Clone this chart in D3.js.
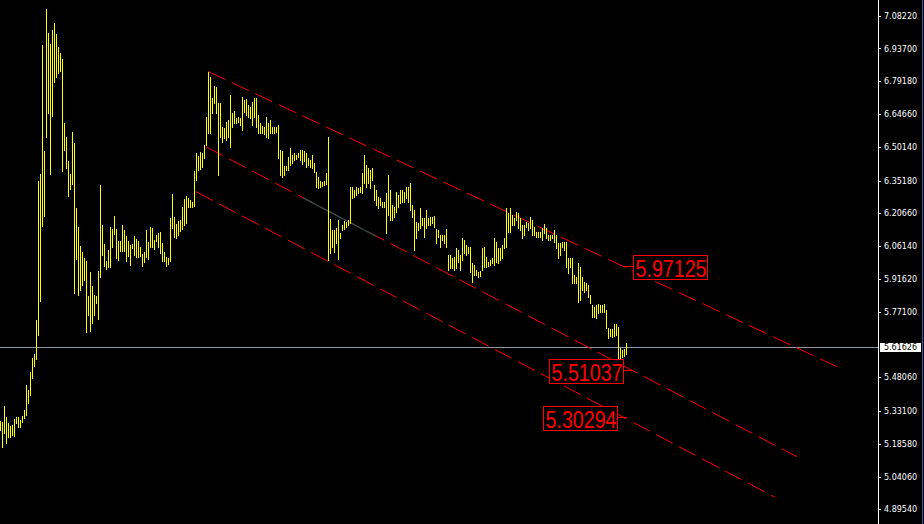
<!DOCTYPE html>
<html><head><meta charset="utf-8">
<script src="https://cdn.jsdelivr.net/npm/d3@7"></script>
<style>html,body{margin:0;padding:0;background:#000;overflow:hidden}</style>
</head><body>
<svg id="chart" width="924" height="524" style="display:block;background:#000"></svg>
<script>
// ---- data ----
const highs = [
5.286,5.281,5.352,5.303,5.277,5.263,5.268,5.294,5.303,5.303,
5.290,5.308,5.334,5.445,5.423,5.503,5.565,5.583,5.733,6.350,
6.381,6.953,6.483,7.113,7.007,6.958,7.020,7.051,7.002,6.945,
6.918,6.891,6.607,6.545,6.439,6.381,6.567,6.518,6.230,6.146,
6.062,6.035,6.008,5.995,5.840,5.946,5.884,5.844,5.840,5.951,
6.332,6.155,6.071,5.995,6.044,6.146,6.137,6.195,6.137,6.084,
6.084,6.155,6.133,6.106,6.084,6.066,6.071,6.106,6.093,6.084,
6.057,6.026,6.035,6.133,6.080,6.146,6.142,6.088,6.111,6.119,
6.124,6.075,6.035,6.013,6.008,6.186,6.292,6.190,6.159,6.173,
6.177,6.235,6.270,6.284,6.275,6.266,6.257,6.394,6.474,6.461,
6.479,6.474,6.510,6.634,6.834,6.811,6.718,6.771,6.767,6.696,
6.696,6.590,6.585,6.612,6.621,6.732,6.652,6.661,6.630,6.634,
6.630,6.723,6.709,6.714,6.687,6.678,6.700,6.718,6.718,6.643,
6.607,6.594,6.590,6.634,6.607,6.621,6.590,6.590,6.590,6.599,
6.488,6.483,6.417,6.417,6.457,6.496,6.465,6.474,6.465,6.474,
6.488,6.488,6.483,6.474,6.452,6.443,6.465,6.430,6.390,6.368,
6.350,6.346,6.350,6.386,6.545,6.181,6.133,6.133,6.142,6.177,
6.119,6.155,6.173,6.168,6.177,6.323,6.323,6.310,6.323,6.319,
6.323,6.386,6.465,6.421,6.408,6.399,6.408,6.332,6.310,6.279,
6.275,6.257,6.257,6.297,6.377,6.310,6.244,6.235,6.301,6.288,
6.310,6.310,6.301,6.323,6.323,6.341,6.244,6.221,6.168,6.164,
6.230,6.186,6.186,6.221,6.186,6.190,6.190,6.195,6.137,6.133,
6.111,6.111,6.111,6.137,6.022,6.022,6.008,6.013,6.053,6.044,
6.022,6.097,6.088,6.066,6.057,6.057,5.986,5.977,5.955,5.946,
5.951,6.053,6.057,6.013,5.991,5.999,6.008,6.097,6.080,6.053,
6.053,6.066,6.097,6.230,6.208,6.230,6.199,6.186,6.213,6.208,
6.186,6.155,6.155,6.168,6.164,6.190,6.177,6.146,6.124,6.124,
6.124,6.142,6.159,6.142,6.111,6.111,6.111,6.133,6.111,6.075,
6.075,6.080,6.080,6.080,6.008,6.008,6.008,5.933,5.924,5.986,
5.968,5.924,5.902,5.897,5.889,5.844,5.800,5.791,5.800,5.804,
5.800,5.800,5.804,5.778,5.698,5.694,5.694,5.716,5.716,5.702,
5.609,5.600,5.605,5.631
];
const lows = [
5.245,5.170,5.232,5.188,5.214,5.214,5.223,5.218,5.277,5.259,
5.259,5.281,5.299,5.312,5.366,5.401,5.476,5.529,5.560,5.667,
5.818,6.150,6.195,6.545,6.652,6.381,6.638,6.789,6.811,6.829,
6.838,6.394,6.488,6.408,6.284,6.315,6.337,5.853,6.004,5.844,
5.867,5.889,5.911,5.680,5.756,5.685,5.720,5.756,5.809,5.738,
5.924,6.022,5.973,5.960,5.969,5.969,6.057,6.115,6.008,5.999,
6.040,6.040,6.040,5.995,6.017,5.977,6.053,6.022,6.013,6.013,
6.017,5.973,5.991,6.013,6.004,6.057,6.057,6.048,6.084,6.057,
6.031,5.995,5.995,5.973,5.982,5.995,6.142,6.102,6.097,6.111,
6.128,6.137,6.155,6.164,6.235,6.235,6.235,6.239,6.355,6.399,
6.403,6.412,6.452,6.510,6.563,6.563,6.652,6.696,6.652,6.377,
6.545,6.523,6.541,6.532,6.545,6.501,6.590,6.607,6.607,6.612,
6.599,6.576,6.656,6.643,6.634,6.630,6.599,6.634,6.590,6.563,
6.563,6.563,6.559,6.545,6.541,6.563,6.563,6.563,6.567,6.452,
6.377,6.368,6.377,6.399,6.399,6.421,6.430,6.443,6.448,6.457,
6.443,6.426,6.439,6.412,6.421,6.412,6.408,6.390,6.323,6.319,
6.323,6.328,6.332,6.337,5.999,6.031,6.057,6.035,6.075,6.004,
6.097,6.133,6.137,6.146,6.155,6.164,6.275,6.279,6.288,6.297,
6.301,6.297,6.341,6.323,6.341,6.319,6.355,6.266,6.244,6.230,
6.244,6.235,6.235,6.119,6.199,6.177,6.177,6.190,6.213,6.235,
6.252,6.257,6.257,6.275,6.257,6.221,6.190,6.044,6.097,6.133,
6.142,6.155,6.102,6.142,6.155,6.155,6.164,6.146,6.075,6.102,
6.057,6.088,6.075,6.057,5.955,5.964,5.964,5.955,5.964,5.991,
5.955,5.999,6.031,6.022,6.031,5.946,5.902,5.933,5.933,5.924,
5.929,5.955,5.969,5.969,5.973,5.977,5.986,5.977,5.991,5.986,
5.999,6.008,6.053,6.057,6.124,6.124,6.155,6.155,6.177,6.142,
6.133,6.097,6.111,6.146,6.133,6.142,6.111,6.111,6.102,6.102,
6.102,6.088,6.119,6.097,6.088,6.088,6.097,6.080,6.053,6.008,
6.022,6.057,6.044,5.969,5.942,5.969,5.897,5.897,5.897,5.813,
5.822,5.867,5.858,5.867,5.836,5.809,5.747,5.747,5.742,5.764,
5.769,5.769,5.769,5.698,5.654,5.663,5.658,5.663,5.667,5.543,
5.556,5.569,5.574,5.583
];
const barIndex = highs.map((_, i) => i);

const tickLabels = ["7.08220","6.93700","6.79180","6.64660","6.50140","6.35180","6.20660",
  "6.06140","5.91620","5.77100","5.48060","5.33100","5.18580","5.04060","4.89540"];
const currentPrice = 5.61626;
const currentPriceLabel = "5.61626";

// trend lines: [startBar, startPrice, endBar, endPrice]
const trendStartBar   = [103.75, 102.75, 97.75];
const trendStartPrice = [6.835, 6.5015, 6.3028];
const trendEndBar     = [418.75, 398.25, 387.25];
const trendEndPrice   = [5.525, 5.128, 4.9485];
// short dark segment lying on the middle line
const segBars   = [151.25, 188.25];
const segPrices = [6.275, 6.103];

// price labels attached to the trend lines
const labelValues = ["5.97125", "5.51037", "5.30294"];
const labelBar    = [311.25, 316.25, 313.25];
const labelSide   = [1, -1, -1];

// ---- drawing ----
const svg = d3.select("#chart");
const W = 924, H = 524, axisX = 878.5;

const x = d3.scaleLinear().domain([0, highs.length - 1]).range([0.5, 2 * (highs.length - 1) + 0.5]);
const y = d3.scaleLinear().domain([4.8954, 7.0822]).range([509.3, 15.7]);

svg.append("rect").attr("width", W).attr("height", H).attr("fill", "#000");

// current price line
const py = Math.round(y(currentPrice)) + 0.5;
svg.append("line").attr("x1", 0).attr("x2", axisX).attr("y1", py).attr("y2", py)
  .attr("stroke", "#8a96a6").attr("stroke-width", 1).attr("shape-rendering", "crispEdges");

// trend lines
const trendIdx = trendStartBar.map((_, i) => i);
svg.append("g").selectAll("line").data(trendIdx).join("line")
  .attr("x1", i => x(trendStartBar[i])).attr("y1", i => y(trendStartPrice[i]))
  .attr("x2", i => x(trendEndBar[i])).attr("y2", i => y(trendEndPrice[i]))
  .attr("stroke", "#ff0000").attr("stroke-width", 1).attr("stroke-dasharray", "19,7");

svg.append("line")
  .attr("x1", x(segBars[0])).attr("y1", y(segPrices[0]))
  .attr("x2", x(segBars[1])).attr("y2", y(segPrices[1]))
  .attr("stroke", "#2f4f4f").attr("stroke-width", 1.2);

// bars (high-low)
svg.append("g").selectAll("line").data(barIndex).join("line")
  .attr("x1", i => Math.floor(x(i)) + 0.5).attr("x2", i => Math.floor(x(i)) + 0.5)
  .attr("y1", i => Math.round(y(highs[i])))
  .attr("y2", i => Math.round(y(lows[i])) + 1)
  .attr("stroke", "#ffff00").attr("stroke-width", 1).attr("shape-rendering", "crispEdges");

// labels
const lab = svg.append("g").selectAll("g").data(labelValues.map((_, i) => i)).join("g");
lab.each(function (i) {
  const g = d3.select(this);
  const ax = x(labelBar[i]), ay = y(+labelValues[i]);
  const s = labelSide[i];
  const stub = 10, bw = 74, bh = 24;
  const bx = s > 0 ? ax + stub : ax - stub - bw;
  const by = ay - 11;
  g.append("line").attr("x1", ax).attr("x2", s > 0 ? bx : bx + bw)
    .attr("y1", Math.round(ay) + 0.5).attr("y2", Math.round(ay) + 0.5)
    .attr("stroke", "#ff0000").attr("stroke-width", 1);
  g.append("rect").attr("x", Math.round(bx) + 0.5).attr("y", Math.round(by) + 0.5)
    .attr("width", bw).attr("height", bh)
    .attr("fill", "#000").attr("stroke", "#ff0000").attr("stroke-width", 1);
  g.append("text").attr("x", Math.round(bx) + 2.5).attr("y", Math.round(by) + 22)
    .attr("fill", "#ff0000")
    .attr("font-family", "'Liberation Sans Narrow', 'Arial Narrow', 'Liberation Sans', Arial, sans-serif")
    .attr("font-size", 24)
    .attr("textLength", 71).attr("lengthAdjust", "spacingAndGlyphs")
    .text(labelValues[i]);
});

// right axis
svg.append("line").attr("x1", axisX).attr("x2", axisX).attr("y1", 0).attr("y2", H)
  .attr("stroke", "#ffffff").attr("stroke-width", 1).attr("shape-rendering", "crispEdges");
const axis = d3.axisRight(y).tickValues(tickLabels.map(Number))
  .tickFormat((d, i) => tickLabels[i]).tickSize(3).tickPadding(3);
const ag = svg.append("g").attr("transform", `translate(${axisX - 0.5},0)`).call(axis);
ag.select(".domain").remove();
ag.selectAll(".tick line").attr("stroke", "#ffffff").attr("shape-rendering", "crispEdges");
ag.selectAll(".tick text").attr("fill", "#ffffff")
  .attr("font-family", "'DejaVu Sans', Verdana, sans-serif").attr("font-size", 8);

// current price tag
svg.append("rect").attr("x", 880).attr("y", py - 4.5).attr("width", 41).attr("height", 9)
  .attr("fill", "#ffffff");
svg.append("text").attr("x", 900.5).attr("y", py).attr("dy", "0.35em")
  .attr("text-anchor", "middle").attr("fill", "#000")
  .attr("font-family", "'DejaVu Sans', Verdana, sans-serif").attr("font-size", 8)
  .text(currentPriceLabel);

// right window border
svg.append("line").attr("x1", 922.5).attr("x2", 922.5).attr("y1", 0).attr("y2", H)
  .attr("stroke", "#2f5fa6").attr("stroke-width", 1);
</script>
</body></html>
